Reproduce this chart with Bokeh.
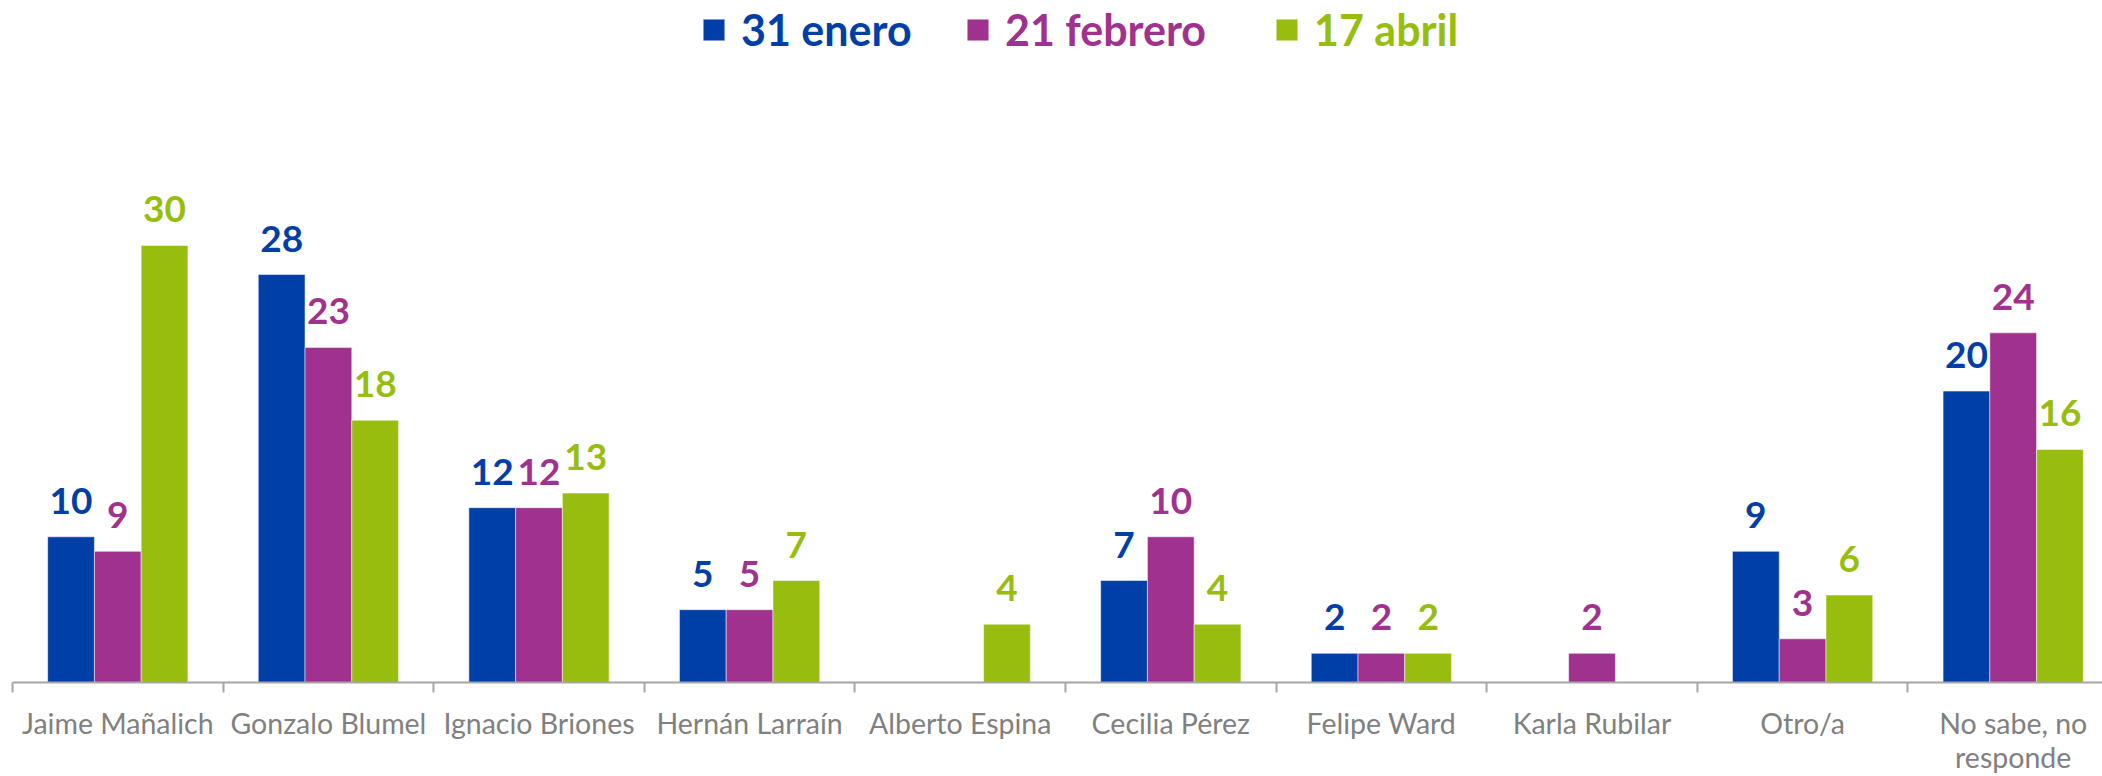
import numpy as np
from bokeh.plotting import figure
from bokeh.models import Range1d, FixedTicker, Legend, LegendItem, ColumnDataSource
from bokeh.core.properties import value
from bokeh.embed import file_html
from bokeh.resources import INLINE

# ---- data ----
categories = ["Jaime Mañalich", "Gonzalo Blumel", "Ignacio Briones", "Hernán Larraín",
              "Alberto Espina", "Cecilia Pérez", "Felipe Ward", "Karla Rubilar",
              "Otro/a", "No sabe, no\nresponde"]
series_names = ["31 enero", "21 febrero", "17 abril"]
enero = [10, 28, 12, 5, None, 7, 2, None, 9, 20]
febrero = [9, 23, 12, 5, None, 10, 2, 2, 3, 24]
abril = [30, 18, 13, 7, 4, 4, 2, None, 6, 16]
series_values = [enero, febrero, abril]
colors = ["#003FA7", "#A0318F", "#97BD0F"]

# ---- layout constants ----
W, H = 2102, 776
LEFT = 12
BAR_W = 0.222
offsets = [-BAR_W, 0.0, BAR_W]
PX_PER_CAT = 210.6
PX_PER_UNIT = 14.57
frame_h = 682

p = figure(width=W, height=H, output_backend="svg", toolbar_location=None,
           x_range=Range1d(0, (W - LEFT) / PX_PER_CAT),
           y_range=Range1d(0, frame_h / PX_PER_UNIT),
           min_border_left=LEFT, min_border_right=0, min_border_top=0,
           min_border_bottom=H - frame_h)
p.outline_line_color = None
p.grid.visible = False
p.yaxis.visible = False
p.background_fill_color = "white"
p.border_fill_color = "white"

centers = [i + 0.5 for i in range(len(categories))]
renderers = []
for vals, off, col in zip(series_values, offsets, colors):
    xs = [c + off for c, v in zip(centers, vals) if v is not None]
    ys = [v for v in vals if v is not None]
    src = ColumnDataSource(dict(x=xs, top=ys, label=[str(v) for v in ys]))
    r = p.vbar(x="x", top="top", width=BAR_W, bottom=0, source=src,
               fill_color=col, line_color="white", line_alpha=0.5, line_width=1)
    renderers.append(r)
    p.text(x="x", y="top", text="label", source=src, text_color=col,
           text_font=value("Lato"), text_font_style="bold", text_font_size="37px",
           text_align="center", text_baseline="alphabetic", y_offset=-36)

ax = p.xaxis[0]
ax.ticker = FixedTicker(ticks=centers, minor_ticks=list(range(len(categories) + 1)))
ax.major_label_overrides = {c: name for c, name in zip(centers, categories)}
ax.major_tick_out = 0
ax.major_tick_in = 0
ax.minor_tick_out = 10
ax.minor_tick_in = 0
ax.minor_tick_line_color = "#A6A6A6"
ax.minor_tick_line_width = 2
ax.axis_line_color = "#A6A6A6"
ax.axis_line_width = 2
ax.major_label_standoff = 13
ax.major_label_text_font = "Lato"
ax.major_label_text_font_size = "28.5px"
ax.major_label_text_color = "#808080"
ax.major_label_text_line_height = 1.0

legend_x = [688, 952, 1261]
for name, r, col, lx in zip(series_names, renderers, colors, legend_x):
    lg = Legend(items=[LegendItem(label=name, renderers=[r])], location=(lx, 627),
                orientation="horizontal", padding=0, margin=0, spacing=0,
                glyph_width=27, glyph_height=27, label_standoff=14,
                border_line_color=None, background_fill_alpha=0,
                label_text_color=col, label_text_font="Lato",
                label_text_font_style="bold", label_text_font_size="43px")
    p.add_layout(lg, "center")

open("out.html", "w").write(file_html(p, INLINE))
